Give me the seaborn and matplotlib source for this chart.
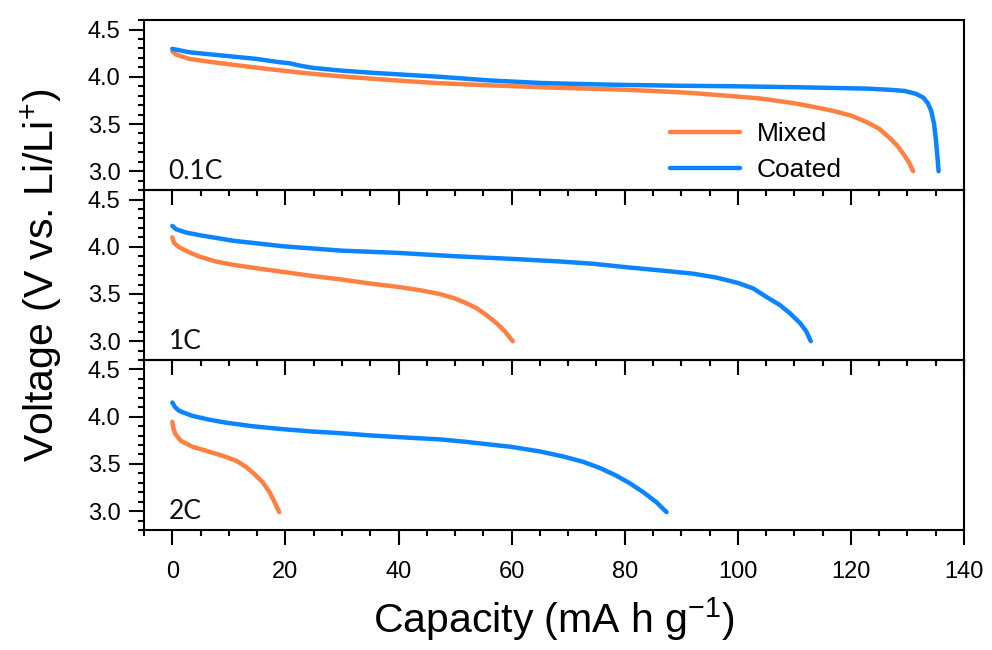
import pandas as pd
import matplotlib.pyplot as plt
import seaborn as sns
from matplotlib.ticker import MultipleLocator

# 0.1C discharge curves
cap_01_mixed = [0, 0.65, 3.0, 7.1, 11.9, 17.8, 23.7, 29.6, 35.5, 41.4, 47.3, 56, 65, 72, 79, 85, 91.5, 99, 104, 110, 113.5, 116.8, 120, 122.8, 125, 126.9, 128.2, 129.2, 130.2, 131.0]
volt_01_mixed = [4.271, 4.236, 4.19, 4.155, 4.119, 4.077, 4.038, 4.006, 3.979, 3.954, 3.932, 3.91, 3.89, 3.877, 3.865, 3.85, 3.83, 3.795, 3.77, 3.72, 3.68, 3.64, 3.59, 3.52, 3.45, 3.35, 3.27, 3.19, 3.10, 3.0]
cap_01_coated = [0, 3.0, 8.9, 14.8, 18.9, 20.7, 22.5, 24.8, 29.6, 35.5, 41.4, 47.3, 56, 65, 72, 79, 90, 99, 110, 122.8, 127, 129.5, 131.5, 132.8, 133.6, 134.2, 134.7, 135.0, 135.3, 135.5]
volt_01_coated = [4.296, 4.26, 4.225, 4.19, 4.155, 4.144, 4.119, 4.095, 4.067, 4.042, 4.021, 4.0, 3.962, 3.935, 3.924, 3.915, 3.905, 3.90, 3.89, 3.875, 3.862, 3.85, 3.82, 3.78, 3.72, 3.64, 3.50, 3.35, 3.15, 3.0]

# 1C discharge curves
cap_1_mixed = [0, 0.3, 1.24, 3.0, 4.8, 7.7, 10.7, 15.4, 19.8, 24.8, 29.9, 34.9, 39.9, 43.7, 47.3, 49.9, 52.0, 53.8, 55.5, 57.3, 58.8, 60.2]
volt_1_mixed = [4.10, 4.04, 3.994, 3.941, 3.896, 3.844, 3.809, 3.768, 3.732, 3.69, 3.653, 3.611, 3.575, 3.541, 3.499, 3.454, 3.402, 3.349, 3.279, 3.192, 3.105, 3.0]
cap_1_coated = [0, 0.65, 2.4, 4.8, 10.7, 19.8, 29.9, 39.9, 49.9, 59.9, 68.5, 74.4, 80.0, 86.2, 92.1, 96.2, 100.0, 102.7, 105.0, 107.4, 109.2, 111.0, 112.1, 112.9]
volt_1_coated = [4.221, 4.186, 4.151, 4.123, 4.064, 4.004, 3.959, 3.935, 3.90, 3.872, 3.844, 3.82, 3.785, 3.75, 3.715, 3.674, 3.617, 3.559, 3.471, 3.384, 3.297, 3.192, 3.105, 3.0]

# 2C discharge curves
cap_2_mixed = [0, 0.15, 0.5, 1.5, 3.6, 6.0, 8.9, 11.3, 13.0, 14.5, 16.0, 17.2, 18.1, 18.9]
volt_2_mixed = [3.945, 3.89, 3.82, 3.745, 3.681, 3.639, 3.586, 3.534, 3.47, 3.394, 3.305, 3.20, 3.094, 2.989]
cap_2_coated = [0, 0.5, 1.24, 3.6, 6.5, 9.5, 14.2, 19.5, 24.8, 29.6, 35.5, 41.4, 47.3, 51.4, 59.9, 65.0, 69.1, 72.6, 75.6, 78.5, 80.9, 83.3, 85.6, 87.4]
volt_2_coated = [4.15, 4.10, 4.061, 4.008, 3.969, 3.937, 3.899, 3.868, 3.843, 3.826, 3.80, 3.779, 3.76, 3.737, 3.681, 3.632, 3.579, 3.523, 3.457, 3.376, 3.295, 3.20, 3.094, 2.989]

rates = ['0.1C', '1C', '2C']
samples = ['Mixed', 'Coated']
colors = {'Mixed': '#ff8040', 'Coated': '#0a84ff'}

curves = {
    ('0.1C', 'Mixed'): (cap_01_mixed, volt_01_mixed),
    ('0.1C', 'Coated'): (cap_01_coated, volt_01_coated),
    ('1C', 'Mixed'): (cap_1_mixed, volt_1_mixed),
    ('1C', 'Coated'): (cap_1_coated, volt_1_coated),
    ('2C', 'Mixed'): (cap_2_mixed, volt_2_mixed),
    ('2C', 'Coated'): (cap_2_coated, volt_2_coated),
}
frames = []
for (rate, sample), (cap, volt) in curves.items():
    frames.append(pd.DataFrame({'Capacity': cap, 'Voltage': volt, 'Sample': sample, 'Rate': rate}))
df = pd.concat(frames, ignore_index=True)

sns.set_theme(style='ticks', rc={'text.color': 'black', 'axes.labelcolor': 'black',
                                 'xtick.color': 'black', 'ytick.color': 'black',
                                 'axes.edgecolor': 'black'})
plt.rcParams['font.family'] = ['Liberation Sans', 'DejaVu Sans']
plt.rcParams['mathtext.default'] = 'regular'

fig, axes = plt.subplots(3, 1, figsize=(9.92, 6.5), dpi=100, sharex=True)
fig.subplots_adjust(left=0.1452, right=0.9718, top=0.969, bottom=0.1846, hspace=0)

for i, (ax, rate) in enumerate(zip(axes, rates)):
    sub = df[df['Rate'] == rate]
    sns.lineplot(data=sub, x='Capacity', y='Voltage', hue='Sample', hue_order=samples,
                 palette=colors, sort=False, estimator=None, lw=3.2, ax=ax, legend=(i == 0))
    ax.set_facecolor('none')
    ax.set_xlim(-5, 140)
    ax.set_ylim(2.8, 4.6)
    ax.xaxis.set_major_locator(MultipleLocator(20))
    ax.xaxis.set_minor_locator(MultipleLocator(5))
    ax.yaxis.set_major_locator(MultipleLocator(0.5))
    ax.yaxis.set_minor_locator(MultipleLocator(0.1))
    ax.tick_params(which='major', direction='out', length=11, width=1.5, labelsize=17, color='black')
    ax.tick_params(which='minor', direction='out', length=4.5, width=1.5, color='black')
    ax.tick_params(axis='y', pad=6)
    ax.tick_params(axis='x', pad=11)
    ax.tick_params(top=False, right=False, which='both')
    for sp in ax.spines.values():
        sp.set_linewidth(1.5)
        sp.set_color('black')
    ax.set_xlabel('')
    ax.set_ylabel('')
    ax.text(0.03, 0.065, rate, transform=ax.transAxes, fontsize=19,
            family=['Lato', 'DejaVu Sans'], color='#111111')

leg = axes[0].legend(loc='center left', bbox_to_anchor=(0.641, 0.225), frameon=False,
                     fontsize=19, handlelength=2.65, handletextpad=0.65,
                     labelspacing=0.45, borderpad=0, borderaxespad=0)
for line in leg.get_lines():
    line.set_linewidth(3.2)

axes[1].set_ylabel('Voltage (V vs. Li/Li$^{+}$)', fontsize=29.5, labelpad=16)
axes[2].set_xlabel('Capacity (mA h g$^{-1}$)', fontsize=29.5, labelpad=9)

fig.savefig('out.png', dpi=100)
